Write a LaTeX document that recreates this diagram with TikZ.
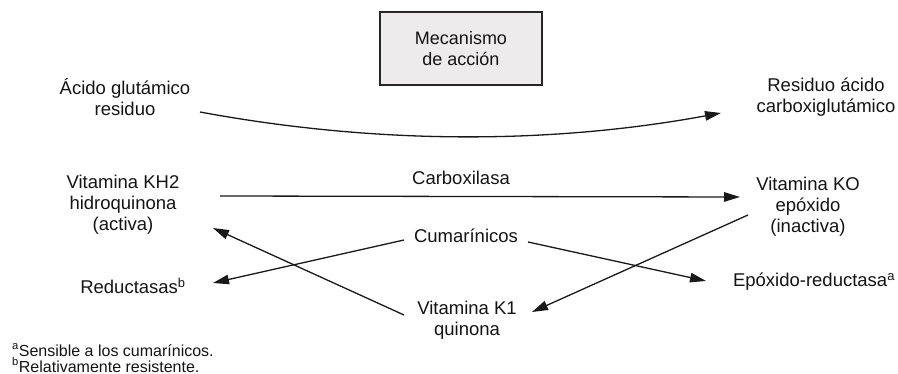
\documentclass[tikz,border=0pt]{standalone}
\usepackage{fontspec}
\setmainfont{Liberation Sans}
\usetikzlibrary{arrows.meta,calc}
\definecolor{txt}{HTML}{141414}
\definecolor{boxfill}{HTML}{EDEBEB}
\begin{document}
\begin{tikzpicture}[x=1pt,y=-1pt,
  lbl/.style={inner sep=0pt,align=center,text=txt,font=\fontsize{18.5}{21}\selectfont},
  foot/.style={inner sep=0pt,align=left,text=txt,anchor=west,font=\fontsize{16}{16}\selectfont},
  titlebox/.style={draw=black!85,line width=1.6pt,fill=boxfill,minimum width=162pt,minimum height=73pt,inner sep=0pt,align=center,text=txt,font=\fontsize{18}{21}\selectfont},
  conn/.style={line width=1.3pt,draw=black!90,-{Triangle[length=16pt,width=9.5pt]}}
]
\useasboundingbox (0,0) rectangle (898,374);

\node[titlebox] (box) at (461,48.5) {Mecanismo\\de acción};
\node[lbl] (glu) at (125,97) {Ácido glutámico\\residuo};
\node[lbl] (res) at (826,97) {Residuo ácido\\carboxiglutámico};
\node[lbl] (kh2) at (123,205) {Vitamina KH2\\hidroquinona\\(activa)};
\node[lbl] (ko) at (808,207) {Vitamina KO\\epóxido\\(inactiva)};
\node[lbl] (carb) at (461,178) {Carboxilasa};
\node[lbl] (cum) at (466,236) {Cumarínicos};
\node[lbl] (k1) at (467,320) {Vitamina K1\\quinona};
\node[lbl] (red) at (133,286) {Reductasas\textsuperscript{b}};
\node[lbl] (epo) at (814,282) {Epóxido-reductasa\textsuperscript{a}};
\node[foot] (fa) at (12,350) {\textsuperscript{a}Sensible a los cumarínicos.};
\node[foot] (fb) at (12,365) {\textsuperscript{b}Relativamente resistente.};

\draw[conn] ($(glu)+(75,15)$) .. controls ($(glu)+(248,47)$) and ($(res)+(-279,48)$) .. ($(res)+(-105,16)$);
\draw[conn] ($(kh2)+(97,-9)$) -- ($(ko)+(-68,-10)$);
\draw[conn] ($(cum)+(-62,4)$) -- ($(red)+(80,-3)$);
\draw[conn] ($(k1)+(-63,-5)$) -- ($(kh2)+(90,23)$);
\draw[conn] ($(cum)+(62,6)$) -- ($(epo)+(-108,-1)$);
\draw[conn] ($(ko)+(-60,8)$) -- ($(k1)+(65,-8)$);
\end{tikzpicture}
\end{document}
